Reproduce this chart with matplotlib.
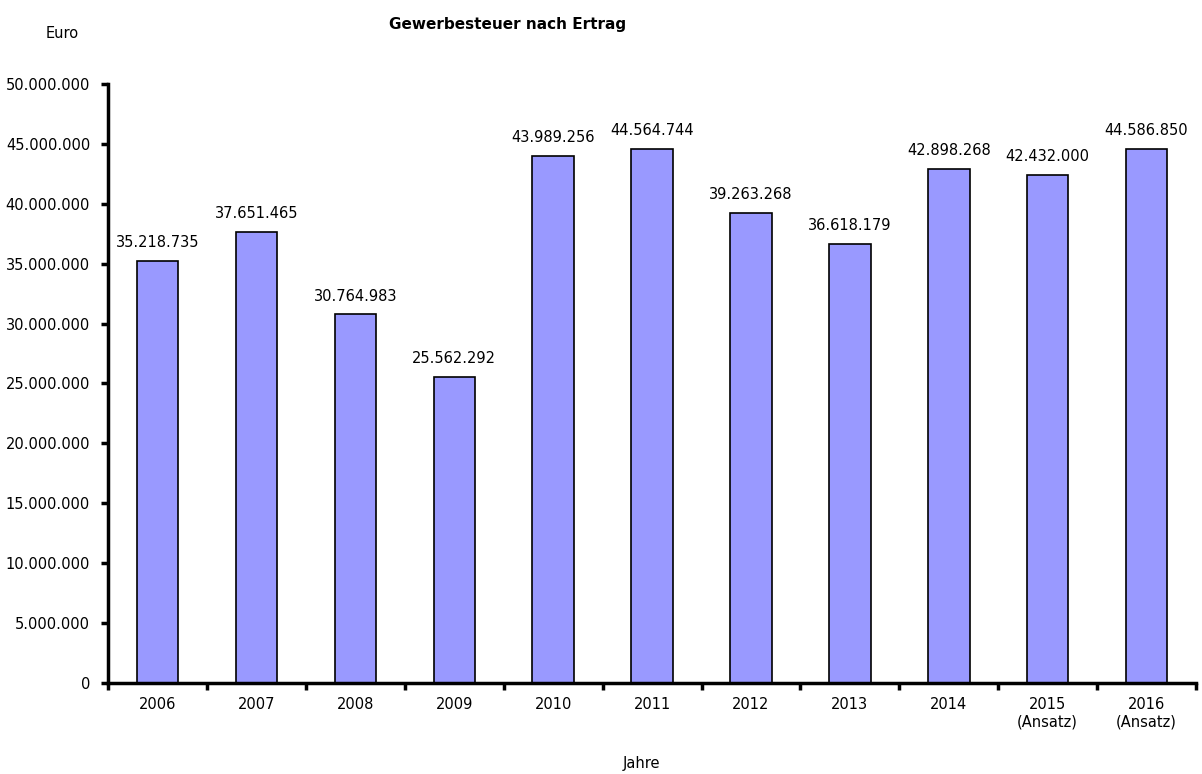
import matplotlib
matplotlib.use("Agg")
import matplotlib.pyplot as plt
from matplotlib.ticker import FuncFormatter, FixedLocator

jahre = ["2006", "2007", "2008", "2009", "2010", "2011", "2012", "2013", "2014",
         "2015\n(Ansatz)", "2016\n(Ansatz)"]
werte = [35218735, 37651465, 30764983, 25562292, 43989256, 44564744,
         39263268, 36618179, 42898268, 42432000, 44586850]


def punkt(v):
    return f"{int(v):,}".replace(",", ".")


def main():
    plt.rcParams['font.family'] = ['DejaVu Sans']
    fig = plt.figure(figsize=(12.02, 7.74), dpi=100)
    ax = fig.add_axes([0.09, 0.1176, 0.905, 0.774])

    x = list(range(len(jahre)))
    bars = ax.bar(x, werte, width=0.42, color="#9999ff", edgecolor="black", linewidth=1.2)
    for b, v in zip(bars, werte):
        ax.text(b.get_x() + b.get_width() / 2, v + 900000, punkt(v),
                ha="center", va="bottom", fontsize=10.5)

    ax.set_xlim(-0.5, len(jahre) - 0.5)
    ax.set_ylim(0, 50000000)
    ax.set_yticks(range(0, 50000001, 5000000))
    ax.yaxis.set_major_formatter(FuncFormatter(lambda v, p: punkt(v)))
    ax.set_xticks(x)
    ax.set_xticklabels(jahre, fontsize=10.5)
    ax.tick_params(axis="x", length=0, pad=10)
    ax.xaxis.set_minor_locator(FixedLocator([i + 0.5 for i in range(-1, len(jahre))]))
    ax.tick_params(axis="x", which="minor", length=5, width=2.5, direction="out")
    ax.tick_params(axis="y", length=5, width=2.5, direction="out", labelsize=10.5, pad=8)

    for s in ["top", "right"]:
        ax.spines[s].set_visible(False)
    ax.spines["left"].set_linewidth(2.5)
    ax.spines["bottom"].set_linewidth(2.5)

    fig.text(0.422, 0.968, "Gewerbesteuer nach Ertrag", ha="center", va="center",
             fontsize=11, fontweight="bold")
    fig.text(0.052, 0.957, "Euro", ha="center", va="center", fontsize=10.5)
    fig.text(0.534, 0.014, "Jahre", ha="center", va="center", fontsize=10.5)

    fig.savefig("out.png", dpi=100)


if __name__ == "__main__":
    main()
